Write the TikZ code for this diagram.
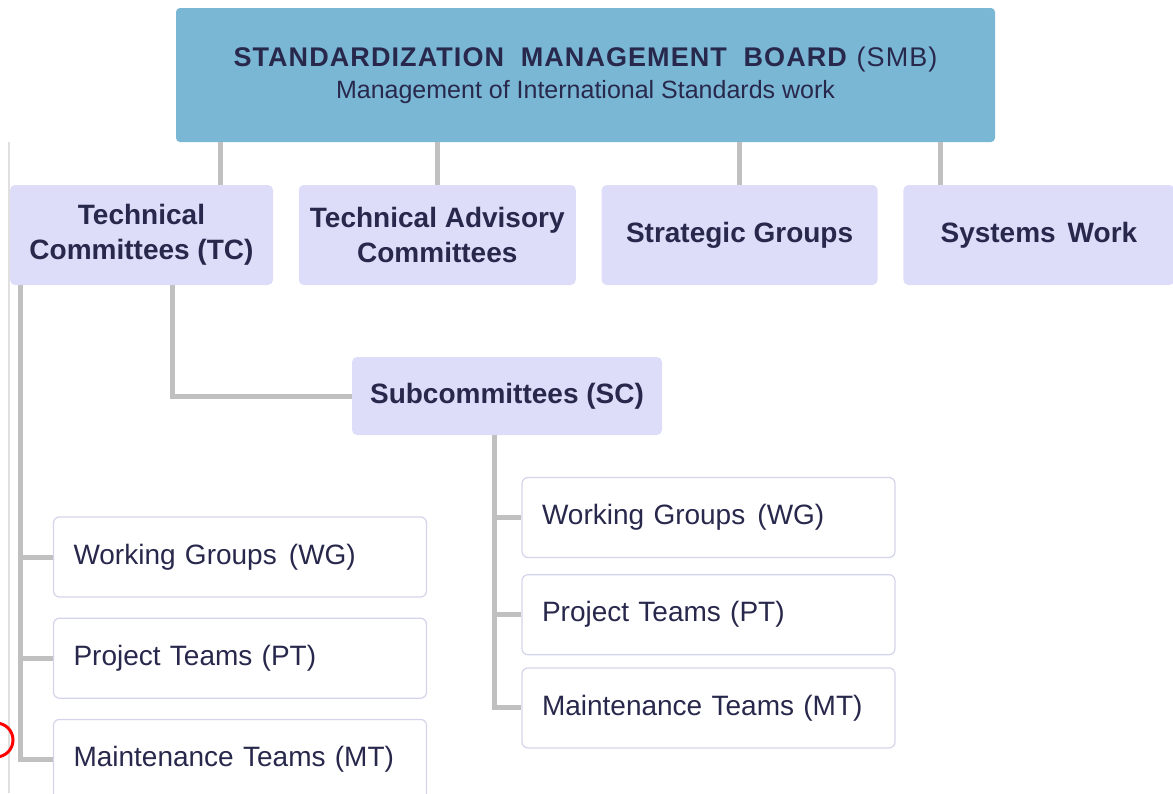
\documentclass[tikz,border=0pt]{standalone}
\usepackage{fontspec}
\setmainfont{Liberation Sans}
\usetikzlibrary{positioning}

\definecolor{boardblue}{RGB}{122,183,212}
\definecolor{lavender}{RGB}{221,221,250}
\definecolor{inkblue}{RGB}{40,40,76}
\definecolor{linkgray}{RGB}{192,192,192}
\definecolor{teamedge}{RGB}{212,212,234}

\begin{document}
\begin{tikzpicture}[x=0.5pt,y=-0.5pt,
    board/.style={fill=boardblue, rounded corners=2pt, minimum width=409.5pt,
      minimum height=67pt, align=center, text=inkblue},
    group/.style={fill=lavender, rounded corners=2.5pt, minimum height=50pt,
      align=center, text=inkblue, font=\fontsize{14}{17.5}\selectfont\bfseries},
    team/.style={draw=teamedge, line width=0.6pt, fill=white, rounded corners=3pt,
      text width=166.5pt, inner xsep=10pt, minimum height=40pt, align=left,
      text=inkblue, font=\fontsize{14}{16}\selectfont},
    link/.style={draw=linkgray, line width=2.5pt}]
  \clip (0,0) rectangle (1173,793);

  % page edge and mark
  \draw[black!12, line width=0.6pt] (9,142) -- (9,793);
  \draw[red, line width=1.5pt] (-4,740) circle[radius=17];

  % board
  \node[board] (smb) at (585.5,75)
    {{\fontsize{13.5}{16.5}\selectfont\addfontfeature{LetterSpace=4}\textbf{STANDARDIZATION\hspace{0.3em} MANAGEMENT\hspace{0.3em} BOARD} (SMB)}\\[4pt]
     {\fontsize{12.5}{15}\selectfont Management of International Standards work}};

  % second row
  \node[group, minimum width=131.5pt] (tc) at (141.5,235) {Technical\\Committees (TC)};
  \node[group, minimum width=138.5pt, right=12.5pt of tc] (tac) {Technical Advisory\\Committees};
  \node[group, minimum width=138pt, right=12.5pt of tac] (sg) {Strategic Groups};
  \node[group, minimum width=135.5pt, right=12.5pt of sg] (sw) {Systems\hspace{0.15em} Work};

  \node[group, minimum width=155pt, minimum height=39pt] (sc) at (507,396) {Subcommittees (SC)};

  % teams under TC
  \node[team] (wg1) at (240,557) {Working Groups\hspace{0.1em} (WG)};
  \node[team, below=10pt of wg1] (pt1) {Project Teams (PT)};
  \node[team, below=10pt of pt1] (mt1) {Maintenance Teams (MT)};

  % teams under SC
  \node[team] (wg2) at (708.5,517.5) {Working Groups\hspace{0.1em} (WG)};
  \node[team, below=8pt of wg2] (pt2) {Project Teams (PT)};
  \node[team, below=6pt of pt2] (mt2) {Maintenance Teams (MT)};

  % board links
  \draw[link] ([xshift=39.25pt]tc.north) -- ([xshift=39.25pt]tc.north |- smb.south);
  \draw[link] (tac.north) -- (tac.north |- smb.south);
  \draw[link] (sg.north) -- (sg.north |- smb.south);
  \draw[link] ([xshift=-49.25pt]sw.north) -- ([xshift=-49.25pt]sw.north |- smb.south);

  % TC links
  \draw[link] ([xshift=15.25pt]tc.south) |- (sc.west);
  \coordinate (tcfoot) at ([xshift=-60.75pt]tc.south);
  \draw[link] (tcfoot) |- (mt1.west);
  \draw[link] (wg1.west) -- (wg1.west -| tcfoot);
  \draw[link] (pt1.west) -- (pt1.west -| tcfoot);

  % SC links
  \coordinate (scfoot) at ([xshift=-6.5pt]sc.south);
  \draw[link] (scfoot) |- (mt2.west);
  \draw[link] (wg2.west) -- (wg2.west -| scfoot);
  \draw[link] (pt2.west) -- (pt2.west -| scfoot);
\end{tikzpicture}
\end{document}
